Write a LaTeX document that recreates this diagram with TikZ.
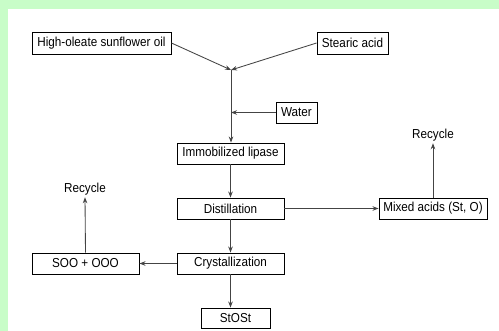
\documentclass[tikz,border=0pt]{standalone}
\usepackage{fontspec}
\setmainfont{Liberation Sans}[FakeStretch=0.9]
\usetikzlibrary{arrows.meta}
\definecolor{bggreen}{HTML}{C8FDC8}
\definecolor{ln}{HTML}{444444}
\begin{document}
\begin{tikzpicture}[x=1pt,y=-1pt,
  box/.style={draw=black,line width=0.9pt,fill=white,inner sep=0pt,font=\fontsize{13}{14}\selectfont},
  lbl/.style={inner sep=0pt,font=\fontsize{13}{14}\selectfont},
  arr/.style={draw=ln,line width=0.85pt,-{Stealth[length=6pt,width=4.5pt]}}]
\useasboundingbox (0,0) rectangle (499,331);
\fill[bggreen] (0,0) rectangle (499,331);
\fill[white] (8,9) rectangle (499,331);
\node[box,minimum width=139pt,minimum height=22pt] (hos) at (101.5,43) {High-oleate sunflower oil};
\node[box,minimum width=71pt,minimum height=22pt] (sa) at (352.5,43) {Stearic acid};
\coordinate (j) at (231,70);
\node[box,minimum width=41pt,minimum height=21pt] (water) at (296.5,112.5) {Water};
\node[box,minimum width=107pt,minimum height=21pt] (lip) at (230.5,153.5) {Immobilized lipase};
\node[box,minimum width=107pt,minimum height=21pt] (dist) at (230.5,208.5) {Distillation};
\node[box,minimum width=107pt,minimum height=21pt] (cry) at (230.5,263.5) {Crystallization};
\node[box,minimum width=69pt,minimum height=20pt] (st) at (235.5,318) {StOSt};
\node[box,minimum width=107pt,minimum height=21pt] (soo) at (85.5,263.5) {SOO + OOO};
\node[box,minimum width=108pt,minimum height=21pt] (mix) at (433,208.5) {Mixed acids (St, O)};
\node[lbl] (rec1) at (85,189) {Recycle};
\node[lbl] (rec2) at (433,135) {Recycle};
\coordinate (wj) at (j |- water.west);
\draw[arr] (hos.east) -- (j);
\draw[arr] (sa.west) -- (j);
\draw[arr] (j) -- (j |- lip.north);
\draw[arr] (water.west) -- (wj);
\draw[arr] (lip.south) -- (dist.north);
\draw[arr] (dist.south) -- (cry.north);
\draw[arr] (cry.south) -- (cry.south |- st.north);
\draw[arr] (dist.east) -- (mix.west);
\draw[arr] (cry.west) -- (soo.east);
\draw[arr] (soo.north) -- ([yshift=-2pt]rec1.south);
\draw[arr] (mix.north) -- ([yshift=-2pt]rec2.south);
\end{tikzpicture}
\end{document}
